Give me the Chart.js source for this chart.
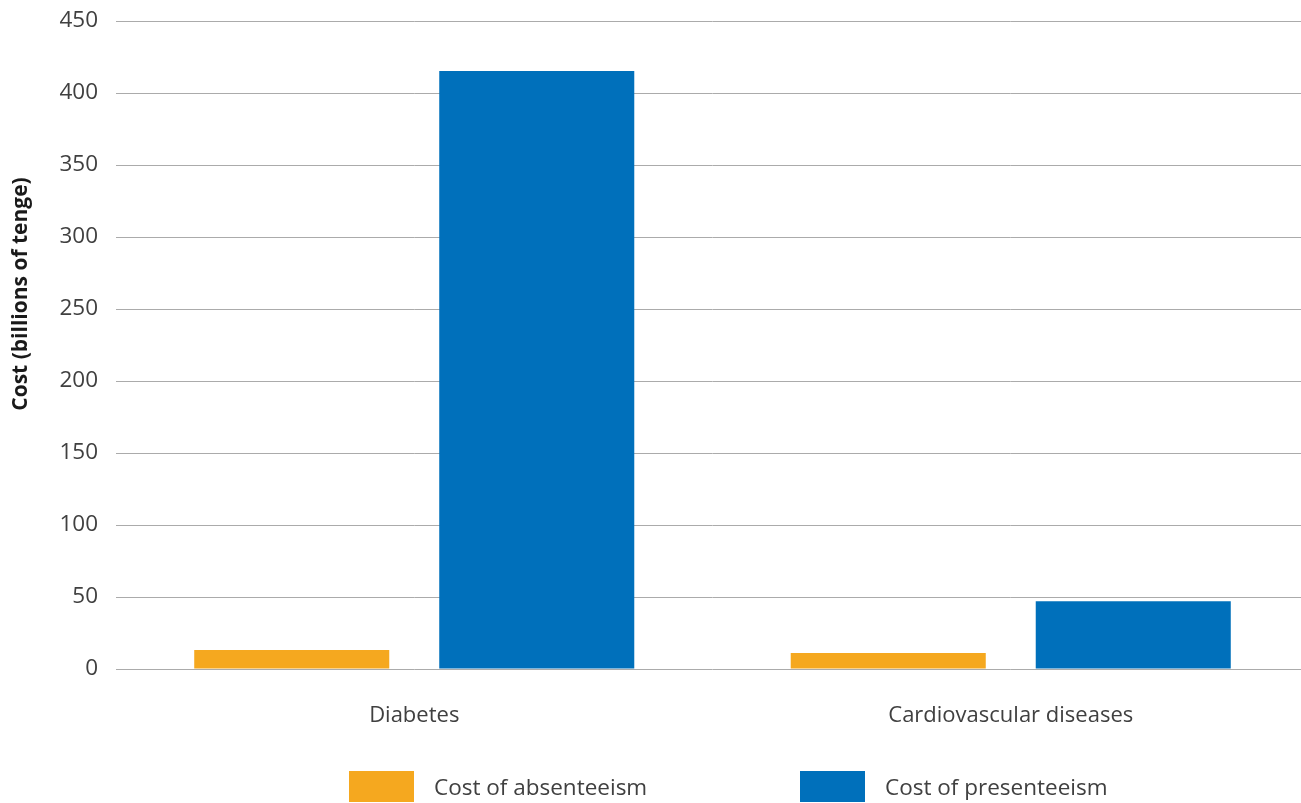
<!DOCTYPE html>
<html>
<head>
<meta charset="utf-8">
<script src="https://cdn.jsdelivr.net/npm/chart.js@4"></script>
<style>
  html, body { margin: 0; padding: 0; background: #fff; overflow: hidden; }
  #wrap { position: relative; width: 1309px; height: 803px; }
  #legend { position: absolute; left: 0; top: 771px; width: 1309px; height: 32px;
            font-family: "Open Sans", sans-serif; font-size: 22.5px; color: #404040; }
  .item { position: absolute; top: 0; display: flex; align-items: center; height: 31px; }
  .box { width: 65px; height: 31px; margin-right: 20px; }
</style>
</head>
<body>
<div id="wrap">
  <canvas id="c" width="1309" height="803"></canvas>
  <div id="legend"></div>
</div>
<script>
const categories = ["Diabetes", "Cardiovascular diseases"];
const seriesNames = ["Cost of absenteeism", "Cost of presenteeism"];
const absenteeism = [13.2, 11.1];
const presenteeism = [415.3, 47.0];
const yAxisTitle = "Cost (billions of tenge)";
const yTickMin = 0, yTickMax = 450, yTickStep = 50;

const colors = ["#F5A81F", "#0070BB"];
const legendLeft = [349, 800];
const FONT = '"Open Sans", sans-serif';

const yTitlePlugin = {
  id: 'yTitle',
  afterDraw(chart) {
    const ctx = chart.ctx;
    ctx.save();
    ctx.translate(21, 294);
    ctx.rotate(-Math.PI / 2);
    ctx.font = 'bold 21px ' + FONT;
    ctx.fillStyle = '#1a1a1a';
    ctx.textAlign = 'center';
    ctx.textBaseline = 'middle';
    ctx.fillText(yAxisTitle, 0, 0);
    ctx.restore();
  }
};

const chart = new Chart(document.getElementById('c'), {
  type: 'bar',
  data: {
    labels: categories,
    datasets: [
      { label: seriesNames[0], data: absenteeism, backgroundColor: colors[0] },
      { label: seriesNames[1], data: presenteeism, backgroundColor: colors[1] }
    ]
  },
  options: {
    responsive: false,
    animation: false,
    devicePixelRatio: 1,
    layout: { padding: { top: 21, right: 0, bottom: 0, left: 0 } },
    categoryPercentage: 0.8215,
    barPercentage: 0.796,
    plugins: {
      legend: { display: false },
      tooltip: { enabled: false }
    },
    scales: {
      x: {
        grid: { display: false, drawTicks: false },
        border: { display: false },
        ticks: { color: '#404040', font: { family: FONT, size: 22 }, padding: 34, maxRotation: 0 },
        afterFit(scale) { scale.height = 134; }
      },
      y: {
        min: yTickMin, max: yTickMax,
        grid: { color: '#ababab', lineWidth: 1, drawTicks: false },
        border: { display: false },
        ticks: { stepSize: yTickStep, color: '#404040', font: { family: FONT, size: 22.5 }, padding: 18 },
        afterFit(scale) { scale.width = 116; scale.paddingTop = 5; scale.paddingBottom = 5; }
      }
    }
  },
  plugins: [yTitlePlugin]
});

const legend = document.getElementById('legend');
chart.data.datasets.forEach((ds, i) => {
  const item = document.createElement('div');
  item.className = 'item';
  item.style.left = legendLeft[i] + 'px';
  const box = document.createElement('div');
  box.className = 'box';
  box.style.background = ds.backgroundColor;
  const txt = document.createElement('span');
  txt.textContent = ds.label;
  item.appendChild(box);
  item.appendChild(txt);
  legend.appendChild(item);
});
</script>
</body>
</html>
